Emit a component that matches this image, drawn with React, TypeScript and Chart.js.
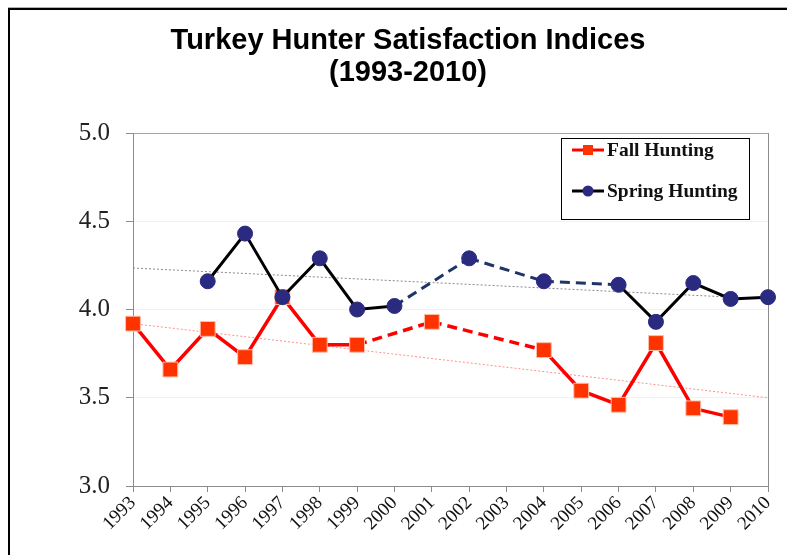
import React, { useEffect, useRef } from "react";
import { Chart, registerables } from "chart.js";
Chart.register(...registerables);

const years = ["1993", "1994", "1995", "1996", "1997", "1998", "1999", "2000", "2001", "2002", "2003", "2004", "2005", "2006", "2007", "2008", "2009", "2010"];
const fallHunting = [3.92, 3.66, 3.89, 3.73, 4.07, 3.80, 3.80, null, 3.93, null, null, 3.77, 3.54, 3.46, 3.81, 3.44, 3.39, null];
const springHunting = [null, null, 4.16, 4.43, 4.07, 4.29, 4.00, 4.02, null, 4.29, null, 4.16, null, 4.14, 3.93, 4.15, 4.06, 4.07];
const fallTrendEnds = [3.92, 3.50];
const springTrendEnds = [4.235, 4.06];
const yTicks = [3.0, 3.5, 4.0, 4.5, 5.0];
const titleLines = ["Turkey Hunter Satisfaction Indices", "(1993-2010)"];
const legendLabels = ["Fall Hunting", "Spring Hunting"];

const RED = "#ff0000";
const RED_MARK = "#ff3300";
const NAVY = "#2a2a80";
const NAVY_DASH = "#1f3566";

function trendSeries(ends: number[]) {
  return years.map((_, i) => (i === 0 ? ends[0] : i === years.length - 1 ? ends[1] : null));
}

const decorPlugin = {
  id: "decor",
  beforeDatasetsDraw(chart: any) {
    const { ctx, chartArea } = chart;
    ctx.save();
    ctx.strokeStyle = "#8c8c8c";
    ctx.lineWidth = 1;
    ctx.beginPath();
    ctx.moveTo(Math.round(chartArea.right) + 0.5, chartArea.top);
    ctx.lineTo(Math.round(chartArea.right) + 0.5, chartArea.bottom);
    ctx.stroke();
    ctx.restore();
  },
  afterDraw(chart: any) {
    const { ctx, chartArea } = chart;
    ctx.save();
    // title
    ctx.fillStyle = "#000";
    ctx.textAlign = "center";
    ctx.textBaseline = "middle";
    ctx.font = "bold 29px 'Liberation Sans', Arial, sans-serif";
    ctx.fillText(titleLines[0], 408, 41);
    ctx.fillText(titleLines[1], 408, 73);

    // legend
    const lx = chartArea.right - 207;
    const ly = chartArea.top + 5;
    ctx.fillStyle = "#fff";
    ctx.fillRect(lx, ly, 188, 81);
    ctx.strokeStyle = "#000";
    ctx.lineWidth = 1;
    ctx.strokeRect(lx + 0.5, ly + 0.5, 188, 81);
    const rows = [ly + 12, ly + 53];
    ctx.font = "bold 19.5px 'Liberation Serif', 'Times New Roman', serif";
    ctx.textAlign = "left";
    // fall
    ctx.strokeStyle = RED;
    ctx.lineWidth = 3;
    ctx.beginPath();
    ctx.moveTo(lx + 11, rows[0]);
    ctx.lineTo(lx + 43, rows[0]);
    ctx.stroke();
    ctx.fillStyle = RED_MARK;
    ctx.fillRect(lx + 22, rows[0] - 5, 10, 10);
    ctx.fillStyle = "#111";
    ctx.fillText(legendLabels[0], lx + 46, rows[0] + 1);
    // spring
    ctx.strokeStyle = "#000";
    ctx.beginPath();
    ctx.moveTo(lx + 11, rows[1]);
    ctx.lineTo(lx + 43, rows[1]);
    ctx.stroke();
    ctx.fillStyle = NAVY;
    ctx.beginPath();
    ctx.arc(lx + 27, rows[1], 5.5, 0, Math.PI * 2);
    ctx.fill();
    ctx.fillStyle = "#111";
    ctx.fillText(legendLabels[1], lx + 46, rows[1] + 1);
    ctx.restore();
  },
};

// a segment spans a gap when the point right before its end point is missing
const gapSeg = (c: any) => {
  const d = c.chart.data.datasets[c.datasetIndex].data;
  return d[c.p0DataIndex] == null;
};

export default function App() {
  const ref = useRef<HTMLCanvasElement | null>(null);
  useEffect(() => {
    if (!ref.current) return;
    const chart = new Chart(ref.current, {
      type: "line",
      data: {
        labels: years,
        datasets: [
          {
            label: legendLabels[1],
            data: springHunting,
            order: 0,
            spanGaps: true,
            borderColor: "#000",
            borderWidth: 3,
            pointStyle: "circle",
            pointRadius: 7.5,
            pointBackgroundColor: NAVY,
            pointBorderColor: NAVY,
            pointBorderWidth: 1,
            tension: 0,
            segment: {
              borderDash: (c: any) => (gapSeg(c) ? [10, 6] : undefined),
              borderColor: (c: any) => (gapSeg(c) ? NAVY_DASH : undefined),
            },
          } as any,
          {
            label: legendLabels[0],
            data: fallHunting,
            order: 1,
            spanGaps: true,
            borderColor: RED,
            borderWidth: 3.5,
            pointStyle: "rect",
            pointRadius: 10.5,
            pointBackgroundColor: RED_MARK,
            pointBorderColor: "#ffbfa8",
            pointBorderWidth: 1,
            tension: 0,
            segment: {
              borderDash: (c: any) => (gapSeg(c) ? [10, 6] : undefined),
            },
          } as any,
          {
            label: "Spring trend",
            data: trendSeries(springTrendEnds),
            order: 2,
            spanGaps: true,
            borderColor: "#8a8a8a",
            borderWidth: 1,
            borderDash: [2, 2],
            pointRadius: 0,
          } as any,
          {
            label: "Fall trend",
            data: trendSeries(fallTrendEnds),
            order: 3,
            spanGaps: true,
            borderColor: "#ff8f8f",
            borderWidth: 1,
            borderDash: [2, 2],
            pointRadius: 0,
          } as any,
        ],
      },
      options: {
        animation: false,
        responsive: false,
        layout: { padding: { left: 0, right: 19, top: 133, bottom: 0 } },
        plugins: {
          legend: { display: false },
          title: { display: false },
          tooltip: { enabled: false },
        },
        scales: {
          x: {
            type: "category",
            offset: false,
            grid: { drawOnChartArea: false, tickColor: "#8c8c8c", tickLength: 6 },
            border: { color: "#8c8c8c", width: 1 },
            ticks: {
              autoSkip: false,
              maxRotation: 45,
              minRotation: 45,
              padding: 0,
              color: "#111",
              font: { family: "'Liberation Serif', 'Times New Roman', serif", size: 19 },
            },
            afterFit: (s: any) => {
              s.height = 69;
            },
          },
          y: {
            min: 3,
            max: 5,
            afterBuildTicks: (s: any) => {
              s.ticks = yTicks.map((v) => ({ value: v }));
            },
            grid: {
              color: (c: any) => (c.tick && c.tick.value === 5 ? "#a6a6a6" : "#f1f1f1"),
              tickColor: "#8c8c8c",
              tickLength: 7,
            },
            border: { color: "#8c8c8c", width: 1 },
            ticks: {
              padding: 16,
              color: "#222",
              font: { family: "'Liberation Serif', 'Times New Roman', serif", size: 25 },
              callback: (v: any) => Number(v).toFixed(1),
            },
            afterFit: (s: any) => {
              s.width = 133;
            },
          },
        },
      },
      plugins: [decorPlugin],
    });
    return () => chart.destroy();
  }, []);

  return (
    <div style={{ position: "fixed", left: 0, top: 0, width: 787, height: 555, background: "#fff", overflow: "hidden" }}>
      <div style={{ position: "absolute", left: 8, top: 7, width: 779, height: 1, background: "#b0b0b0" }} />
      <div style={{ position: "absolute", left: 8, top: 8, width: 779, height: 2, background: "#000" }} />
      <div style={{ position: "absolute", left: 8, top: 8, width: 2, height: 547, background: "#000" }} />
      <canvas ref={ref} width={787} height={555} style={{ position: "absolute", left: 0, top: 0 }} />
    </div>
  );
}
